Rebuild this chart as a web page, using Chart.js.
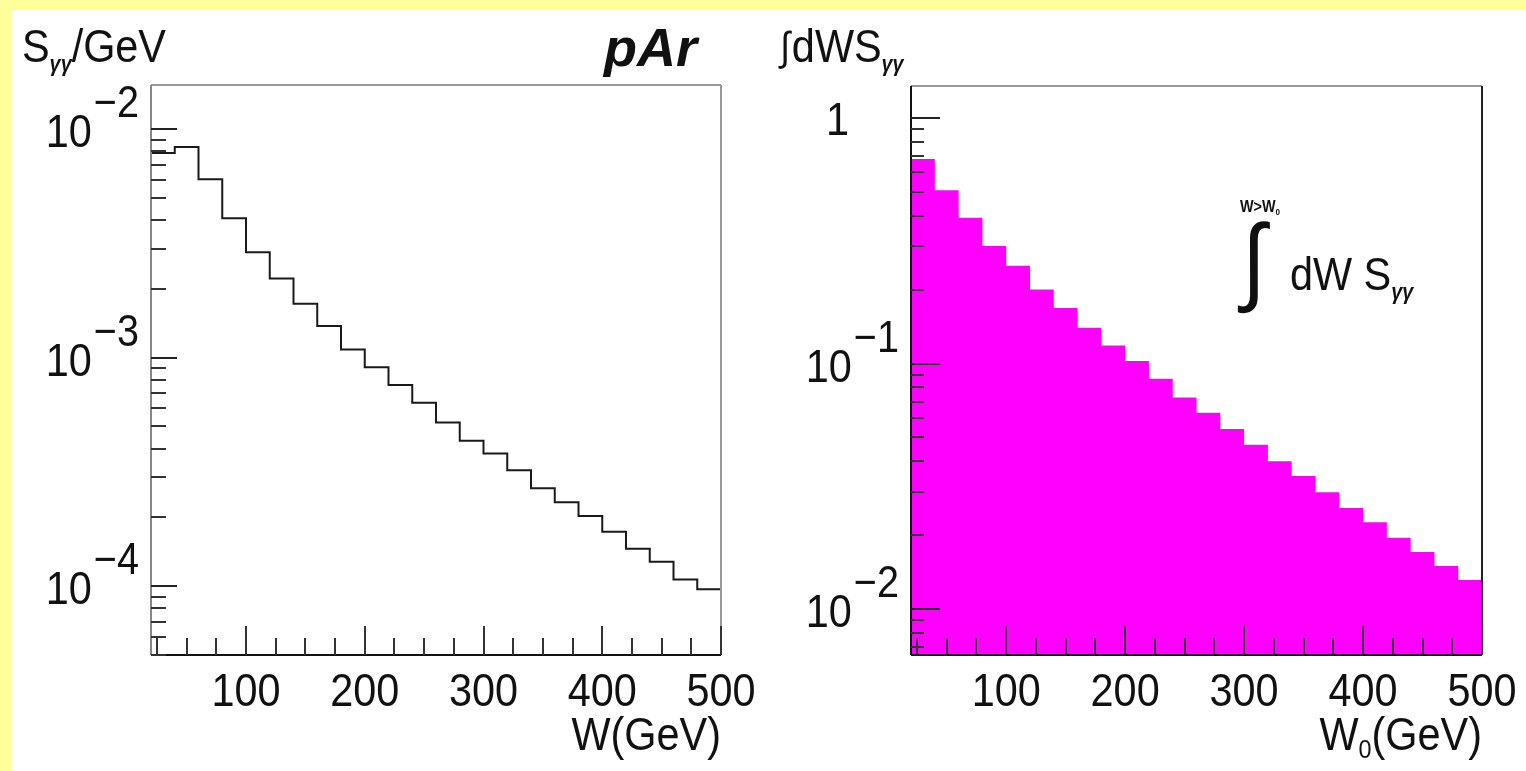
<!DOCTYPE html>
<html>
<head>
<meta charset="utf-8">
<script src="https://cdn.jsdelivr.net/npm/chart.js@4.4.1/dist/chart.umd.min.js"></script>
<style>
  body { margin: 0; background: #ffff99; width: 1526px; height: 771px; overflow: hidden; position: relative; }
  #sheet { position: absolute; left: 11px; top: 10px; right: 0; bottom: 0; background: #fff; }
  canvas { position: absolute; top: 0; }
  #left { left: 0; }
  #right { left: 760px; }
</style>
</head>
<body>
<div id="sheet"></div>
<canvas id="left" width="760" height="771"></canvas>
<canvas id="right" width="766" height="771"></canvas>
<script>
// bin edges in W (GeV), 20 GeV wide bins
const binEdges = [20, 40, 60, 80, 100, 120, 140, 160, 180, 200, 220, 240, 260,
                  280, 300, 320, 340, 360, 380, 400, 420, 440, 460, 480, 500]

// S_gg / GeV per bin (left panel)
const spectrum = [7.86e-3, 8.35e-3, 6.03e-3, 4.07e-3, 2.89e-3, 2.22e-3, 1.72e-3, 1.375e-3,
                  1.087e-3, 9.07e-4, 7.59e-4, 6.35e-4, 5.21e-4, 4.33e-4, 3.81e-4, 3.22e-4,
                  2.68e-4, 2.33e-4, 2.03e-4, 1.73e-4, 1.46e-4, 1.28e-4, 1.07e-4, 9.7e-5]

// integral of S_gg for W > W0 (right panel)
const integral = [0.681, 0.508, 0.392, 0.301, 0.250, 0.200, 0.1685, 0.140,
                  0.1185, 0.1023, 0.0866, 0.0728, 0.0630, 0.0541, 0.0467, 0.0400,
                  0.0348, 0.0299, 0.0258, 0.02256, 0.01953, 0.01708, 0.01498, 0.01314]

const xMajorTicks = [100, 200, 300, 400, 500]
const xTickLabels = ['100', '200', '300', '400', '500']
const xMinorTicks = [25, 50, 75, 125, 150, 175, 225, 250, 275, 325, 350, 375, 425, 450, 475]
const leftDecades = [-2, -3, -4]
const rightDecades = [0, -1, -2]

const FONT = "'Liberation Sans', Arial, Helvetica, sans-serif"
const SX = 0.9

function put(ctx, s, x, y, size, align = 'left', style = '', sx = SX) {
    ctx.save()
    ctx.font = `${style} ${size}px ${FONT}`
    ctx.fillStyle = '#111'
    ctx.textBaseline = 'alphabetic'
    const w = ctx.measureText(s).width * sx
    const x0 = align === 'right' ? x - w : align === 'center' ? x - w / 2 : x
    ctx.translate(x0, y)
    ctx.scale(sx, 1)
    ctx.fillText(s, 0, 0)
    ctx.restore()
    return w
}

function width(ctx, s, size, style = '', sx = SX) {
    ctx.save()
    ctx.font = `${style} ${size}px ${FONT}`
    const w = ctx.measureText(s).width * sx
    ctx.restore()
    return w
}

function line(ctx, x1, y1, x2, y2, color, w = 2) {
    ctx.beginPath()
    ctx.strokeStyle = color
    ctx.lineWidth = w
    ctx.moveTo(x1, y1)
    ctx.lineTo(x2, y2)
    ctx.stroke()
}

// each bin value is held from its left edge to the next edge
const histPoints = (vals) => binEdges.map((x, i) => ({ x, y: vals[Math.min(i, vals.length - 1)] }))

const rootFrame = (cfg) => ({
    id: 'rootFrame',
    afterDatasetsDraw(chart) {
        const { ctx, chartArea: a, scales: { x, y } } = chart
        ctx.save()
        // frame
        line(ctx, a.left, a.top, a.right, a.top, cfg.topColor)
        line(ctx, a.right, a.top, a.right, a.bottom, cfg.rightColor)
        line(ctx, a.left, a.top, a.left, a.bottom, cfg.leftColor)
        line(ctx, a.left, a.bottom, a.right, a.bottom, '#111')

        // y ticks
        cfg.decades.forEach(d => {
            const py = Math.round(y.getPixelForValue(Math.pow(10, d)))
            line(ctx, a.left, py, a.left + cfg.yMajor, py, '#222')
        })
        for (let n = Math.floor(Math.log10(y.min)); n <= Math.ceil(Math.log10(y.max)); n++) {
            for (let k = 2; k <= 9; k++) {
                const v = k * Math.pow(10, n)
                if (v < y.min || v > y.max) continue
                const py = Math.round(y.getPixelForValue(v))
                line(ctx, a.left, py, a.left + cfg.yMinor, py, '#333')
            }
        }
        // x ticks
        xMajorTicks.forEach(v => {
            const px = Math.round(x.getPixelForValue(v))
            line(ctx, px, a.bottom, px, a.bottom - 29, '#333')
        })
        xMinorTicks.forEach(v => {
            const px = Math.round(x.getPixelForValue(v))
            line(ctx, px, a.bottom, px, a.bottom - 17, '#333')
        })

        // x labels
        xMajorTicks.forEach((v, i) => {
            put(ctx, xTickLabels[i], x.getPixelForValue(v), 706, 46, 'center')
        })

        // y labels
        cfg.decades.forEach(d => {
            const py = y.getPixelForValue(Math.pow(10, d))
            if (d === 0) {
                put(ctx, '1', a.left - 62, py + 17, 46, 'right')
                return
            }
            const exp = '\u2212' + Math.abs(d)
            const wExp = width(ctx, exp, 44)
            const right = a.left - 12
            put(ctx, exp, right - wExp, py - 12, 44)
            put(ctx, '10', right - wExp - 2, py + 18, 46, 'right')
        })

        cfg.titles(ctx, a)
        ctx.restore()
    }
})

function makeChart(id, vals, filled, yMin, yMax, pad, cfg) {
    return new Chart(document.getElementById(id), {
        type: 'line',
        data: {
            datasets: [{
                data: histPoints(vals),
                stepped: 'before',
                borderColor: filled ? 'rgba(0,0,0,0)' : '#1a1a1a',
                borderWidth: filled ? 0 : 2,
                backgroundColor: '#ff00ff',
                fill: filled ? 'start' : false,
                pointRadius: 0
            }]
        },
        options: {
            responsive: false,
            animation: false,
            devicePixelRatio: 1,
            layout: { padding: pad },
            plugins: { legend: { display: false }, tooltip: { enabled: false } },
            scales: {
                x: { type: 'linear', min: 20, max: 500, display: false },
                y: { type: 'logarithmic', min: yMin, max: yMax, display: false }
            }
        },
        plugins: [rootFrame(cfg)]
    })
}

makeChart('left', spectrum, false, 5.0e-5, 1.56e-2,
    { left: 151, right: 39, top: 85, bottom: 116 }, {
    decades: leftDecades, yMajor: 26, yMinor: 15,
    topColor: '#999', rightColor: '#999', leftColor: '#888',
    titles(ctx, a) {
        let x = 22
        x += put(ctx, 'S', x, 62, 46)
        x += put(ctx, '\u03b3\u03b3', x, 71, 22, 'left', 'italic bold')
        put(ctx, '/GeV', x, 62, 46)
        put(ctx, 'pAr', 604, 66, 54, 'left', 'italic bold', 1)
        put(ctx, 'W(GeV)', a.right, 750, 46, 'right')
    }
})

makeChart('right', integral, true, 6.5e-3, 1.35,
    { left: 151, right: 44, top: 86, bottom: 116 }, {
    decades: rightDecades, yMajor: 29, yMinor: 13,
    topColor: '#999', rightColor: '#222', leftColor: '#111',
    titles(ctx, a) {
        let x = 20
        x += put(ctx, '\u222b', x, 60, 40, 'left', 'italic')
        x += put(ctx, 'dWS', x + 2, 62, 46) + 2
        put(ctx, '\u03b3\u03b3', x, 71, 22, 'left', 'italic bold')

        // legend text inside the pad
        let lx = 480
        lx += put(ctx, 'W>W', lx, 212, 16, 'left', 'bold')
        put(ctx, '0', lx, 215, 9, 'left', 'bold')
        put(ctx, '\u222b', 482, 292, 96, 'left', 'italic')
        let tx = 530
        tx += put(ctx, 'dW S', tx, 290, 46)
        put(ctx, '\u03b3\u03b3', tx, 299, 22, 'left', 'italic bold')

        // x title W0(GeV)
        const wTail = width(ctx, '(GeV)', 46)
        const wSub = width(ctx, '0', 26)
        const wW = width(ctx, 'W', 46)
        put(ctx, '(GeV)', a.right, 750, 46, 'right')
        put(ctx, '0', a.right - wTail - wSub, 758, 26)
        put(ctx, 'W', a.right - wTail - wSub - wW, 750, 46)
    }
})
</script>
</body>
</html>
